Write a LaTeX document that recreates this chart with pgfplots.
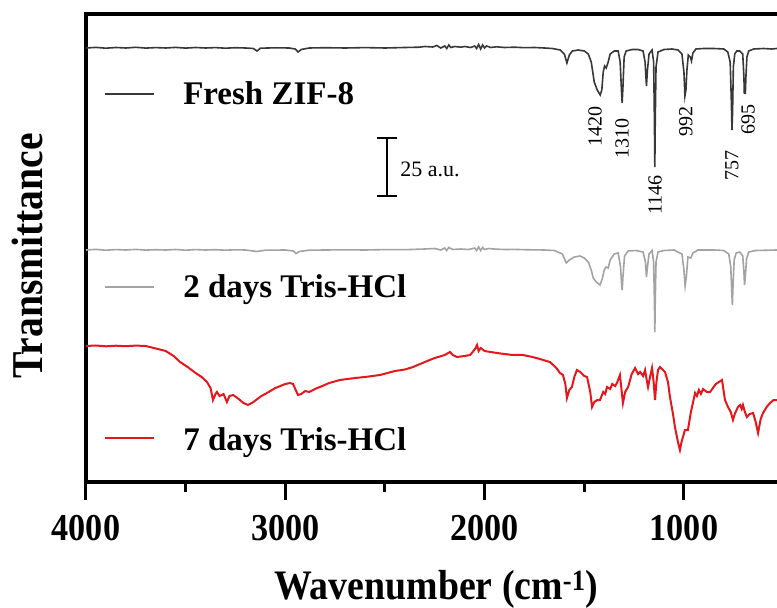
\documentclass[border=0pt]{standalone}
\usepackage{fontspec}
\setmainfont{Liberation Serif}
\newfontfamily\condfont{Liberation Serif}[FakeStretch=0.9]
\usepackage{pgfplots}
\pgfplotsset{compat=1.18}
\definecolor{freshc}{HTML}{383838}
\definecolor{twoc}{HTML}{A3A3A3}
\definecolor{sevenc}{HTML}{E3171C}
\begin{document}
\begin{tikzpicture}
\begin{axis}[
  name=ax, scale only axis, width=697.6pt, height=468pt,
  x dir=reverse, xmin=500, xmax=4000, ymin=0, ymax=468,
  axis line style={line width=3.5pt},
  xtick={4000,3000,2000,1000}, xticklabels={4000,3000,2000,1000},
  minor xtick={3500,2500,1500},
  xtick pos=left, ytick=\empty,
  tick align=outside,
  major tick length=18pt, minor tick length=10pt,
  major tick style={line width=3pt, black},
  minor tick style={line width=3pt, black},
  xticklabel style={font=\fontsize{38}{40}\condfont\bfseries, inner sep=0pt, anchor=north, yshift=-15pt},
  xlabel={Wavenumber (cm\textsuperscript{-1})},
  xlabel style={font=\fontsize{42}{46}\condfont\bfseries, at={(axis description cs:0.502,-0.2521)}, anchor=base},
  ylabel={Transmittance},
  ylabel style={font=\fontsize{44}{46}\condfont\bfseries, at={(axis description cs:-0.0839,0.483)}, anchor=center},
]
% Fresh ZIF-8
\addplot[freshc, line width=1.6pt] coordinates {
(4000,434)(3950,434.6)(3900,433.8)(3850,434.5)(3800,434)(3750,434.7)(3700,433.9)(3650,434.4)(3600,434)(3550,434.6)(3500,433.9)(3450,434.5)(3400,434)(3350,434.4)(3300,433.8)(3250,434.3)(3200,434)(3160,433.5)(3142,431)(3125,433.8)(3050,434.2)(2980,434)(2950,433)(2936,430)(2920,432.5)(2880,434)(2800,434.3)(2700,434)(2600,434.4)(2500,434)(2400,434.5)(2330,434.8)(2300,435.5)(2260,435)(2240,436.5)(2220,434)(2200,436)(2190,433.5)(2180,437)(2170,434.5)(2150,435.5)(2120,434.8)(2100,435.5)(2070,434.5)(2050,436)(2040,433.5)(2030,437.5)(2020,433)(2010,437)(2000,434)(1990,436)(1970,434.5)(1940,435.2)(1900,434.5)(1850,434.8)(1800,434.3)(1750,434.5)(1700,434)(1660,433.5)(1620,432)(1600,428)(1587,419)(1575,427)(1560,431)(1530,432)(1500,431)(1480,428)(1465,420)(1450,400)(1435,392)(1420,387)(1412,392)(1405,410)(1398,416)(1390,414)(1380,420)(1370,428)(1350,431)(1330,431)(1320,420)(1313,390)(1310,379)(1306,395)(1300,425)(1290,431)(1260,432.5)(1230,432.5)(1205,431)(1195,420)(1188,396)(1183,412)(1175,428)(1160,432)(1152,420)(1148,360)(1146,315)(1144,360)(1140,415)(1130,430)(1100,432.5)(1060,433)(1030,432)(1010,428)(1000,410)(995,386)(990,392)(985,412)(978,427)(968,425)(962,421)(955,429)(940,433)(900,433.5)(850,433.5)(800,433)(780,430)(768,420)(762,380)(759,352)(756,370)(752,415)(745,428)(735,431)(720,431)(705,428)(699,405)(697,388)(694,400)(692,388)(689,405)(684,425)(675,431)(650,433)(600,433.5)(560,433)(533,433.5)(500,433.5)
};
% 2 days Tris-HCl
\addplot[twoc, line width=1.6pt] coordinates {
(4000,232)(3950,232.6)(3900,231.8)(3850,232.4)(3800,232)(3750,232.6)(3700,231.9)(3650,232.3)(3600,232)(3550,232.5)(3500,231.8)(3450,232.4)(3400,232)(3350,232.3)(3300,231.8)(3250,232.2)(3200,232)(3142,230.5)(3100,231.8)(3000,232)(2960,231)(2946,228.5)(2930,230.5)(2880,231.8)(2800,232)(2700,232.2)(2600,232)(2500,232.4)(2400,232.3)(2300,233)(2250,233.5)(2220,232)(2200,234)(2190,231.5)(2180,234.5)(2160,232.5)(2120,233)(2080,232.5)(2050,234)(2040,231.5)(2030,235)(2020,231.5)(2010,234.5)(2000,232.5)(1980,233.5)(1940,232.8)(1900,232.5)(1850,232.6)(1800,232.3)(1700,232)(1650,231.5)(1610,228)(1590,219)(1575,222)(1550,225)(1521,226)(1500,224)(1480,220)(1465,212)(1455,204)(1440,200)(1421,197)(1410,203)(1400,212)(1390,215)(1380,214)(1370,222)(1350,228)(1330,229)(1318,215)(1312,195)(1310,192)(1306,205)(1298,226)(1280,231)(1240,231.5)(1205,230)(1193,220)(1188,205)(1183,215)(1175,228)(1160,231.5)(1152,220)(1148,180)(1146,150)(1144,180)(1140,220)(1130,230)(1100,231.5)(1050,232)(1010,228)(1000,212)(994,196)(988,205)(980,225)(965,224)(955,229)(930,232)(850,232)(800,231.5)(775,228)(765,215)(760,190)(757,177)(754,195)(748,222)(738,229)(720,230)(705,226)(699,210)(696,197)(692,205)(686,223)(675,230)(640,231.5)(580,231.8)(533,232)(500,232)
};
% 7 days Tris-HCl
\addplot[sevenc, line width=2pt] coordinates {
(4000,136)(3950,136.5)(3900,135.7)(3850,136.3)(3800,135.8)(3750,136.4)(3700,136)(3660,134)(3600,131)(3560,126)(3528,120)(3490,115)(3450,109)(3420,105)(3393,100)(3375,94)(3363,82)(3350,88)(3343,90)(3330,86)(3310,88)(3293,80)(3280,86)(3262,87)(3240,84)(3210,79)(3187,77)(3160,80)(3120,86)(3092,89)(3050,94)(3000,98)(2976,99)(2961,98)(2950,93)(2936,87)(2920,88)(2900,91)(2880,90)(2861,92)(2840,94)(2826,95)(2780,99)(2726,102)(2650,104)(2600,105)(2525,107)(2450,111)(2400,112.5)(2359,115)(2300,120)(2250,124)(2200,127)(2174,130)(2160,127)(2139,125)(2100,126)(2073,127)(2060,130)(2045,134)(2038,137)(2030,131)(2020,134)(2000,131)(1970,130)(1938,129)(1900,128)(1860,127)(1807,127)(1760,125)(1722,123)(1690,121)(1672,120)(1640,114)(1622,109)(1607,107)(1595,98)(1587,84)(1575,92)(1562,95)(1550,105)(1537,112)(1520,110)(1500,106)(1486,105)(1470,90)(1461,75)(1450,80)(1435,82)(1421,82)(1405,90)(1395,88)(1386,95)(1370,93)(1360,98)(1345,96)(1336,99)(1321,107)(1312,90)(1306,79)(1295,90)(1280,95)(1262,108)(1245,114)(1230,108)(1220,110)(1205,106)(1195,112)(1185,100)(1180,95)(1170,105)(1160,114)(1152,100)(1145,82)(1138,100)(1130,112)(1120,115)(1095,110)(1080,100)(1070,85)(1055,68)(1045,55)(1030,40)(1020,32)(1012,40)(1005,45)(995,52)(980,52)(965,70)(944,89)(935,86)(925,92)(915,88)(904,93)(885,90)(869,90)(840,98)(809,102)(800,90)(794,82)(779,75)(765,70)(754,62)(745,68)(729,75)(718,77)(710,73)(704,77)(694,70)(684,65)(670,68)(653,69)(640,60)(628,49)(615,63)(603,69)(585,75)(568,79)(550,82)(533,82)(510,84)(500,84)
};
% legend entries
\draw[freshc, line width=2.2pt] (axis cs:3905,388) -- (axis cs:3659,388);
\node[anchor=base west, inner sep=0pt, font=\fontsize{33}{36}\selectfont\bfseries] at (axis cs:3513,377) {Fresh ZIF-8};
\draw[twoc, line width=2.2pt] (axis cs:3905,195) -- (axis cs:3659,195);
\node[anchor=base west, inner sep=0pt, font=\fontsize{33}{36}\selectfont\bfseries] at (axis cs:3513,184) {2 days Tris-HCl};
\draw[sevenc, line width=2.2pt] (axis cs:3905,44) -- (axis cs:3659,44);
\node[anchor=base west, inner sep=0pt, font=\fontsize{33}{36}\selectfont\bfseries] at (axis cs:3513,32) {7 days Tris-HCl};
% scale bar
\draw[black, line width=1.8pt] (axis cs:2490,286) -- (axis cs:2490,344);
\draw[black, line width=1.8pt] (axis cs:2540,344) -- (axis cs:2440,344);
\draw[black, line width=1.8pt] (axis cs:2540,286) -- (axis cs:2440,286);
\node[anchor=base west, inner sep=0pt, font=\fontsize{22}{24}\selectfont] at (axis cs:2424,305) {25 a.u.};
% peak labels
\begin{scope}[every node/.style={rotate=90, inner sep=0pt, font=\fontsize{20}{22}\selectfont}]
\node at (axis cs:1446,355) {1420};
\node at (axis cs:1311,343) {1310};
\node at (axis cs:1145,287) {1146};
\node at (axis cs:990,360) {992};
\node at (axis cs:759,316) {757};
\node at (axis cs:678,362) {695};
\end{scope}
\end{axis}
\pgfresetboundingbox
\path ([xshift=-86pt,yshift=-126pt]ax.south west) rectangle ([xshift=691pt,yshift=482pt]ax.south west);
\end{tikzpicture}
\end{document}
